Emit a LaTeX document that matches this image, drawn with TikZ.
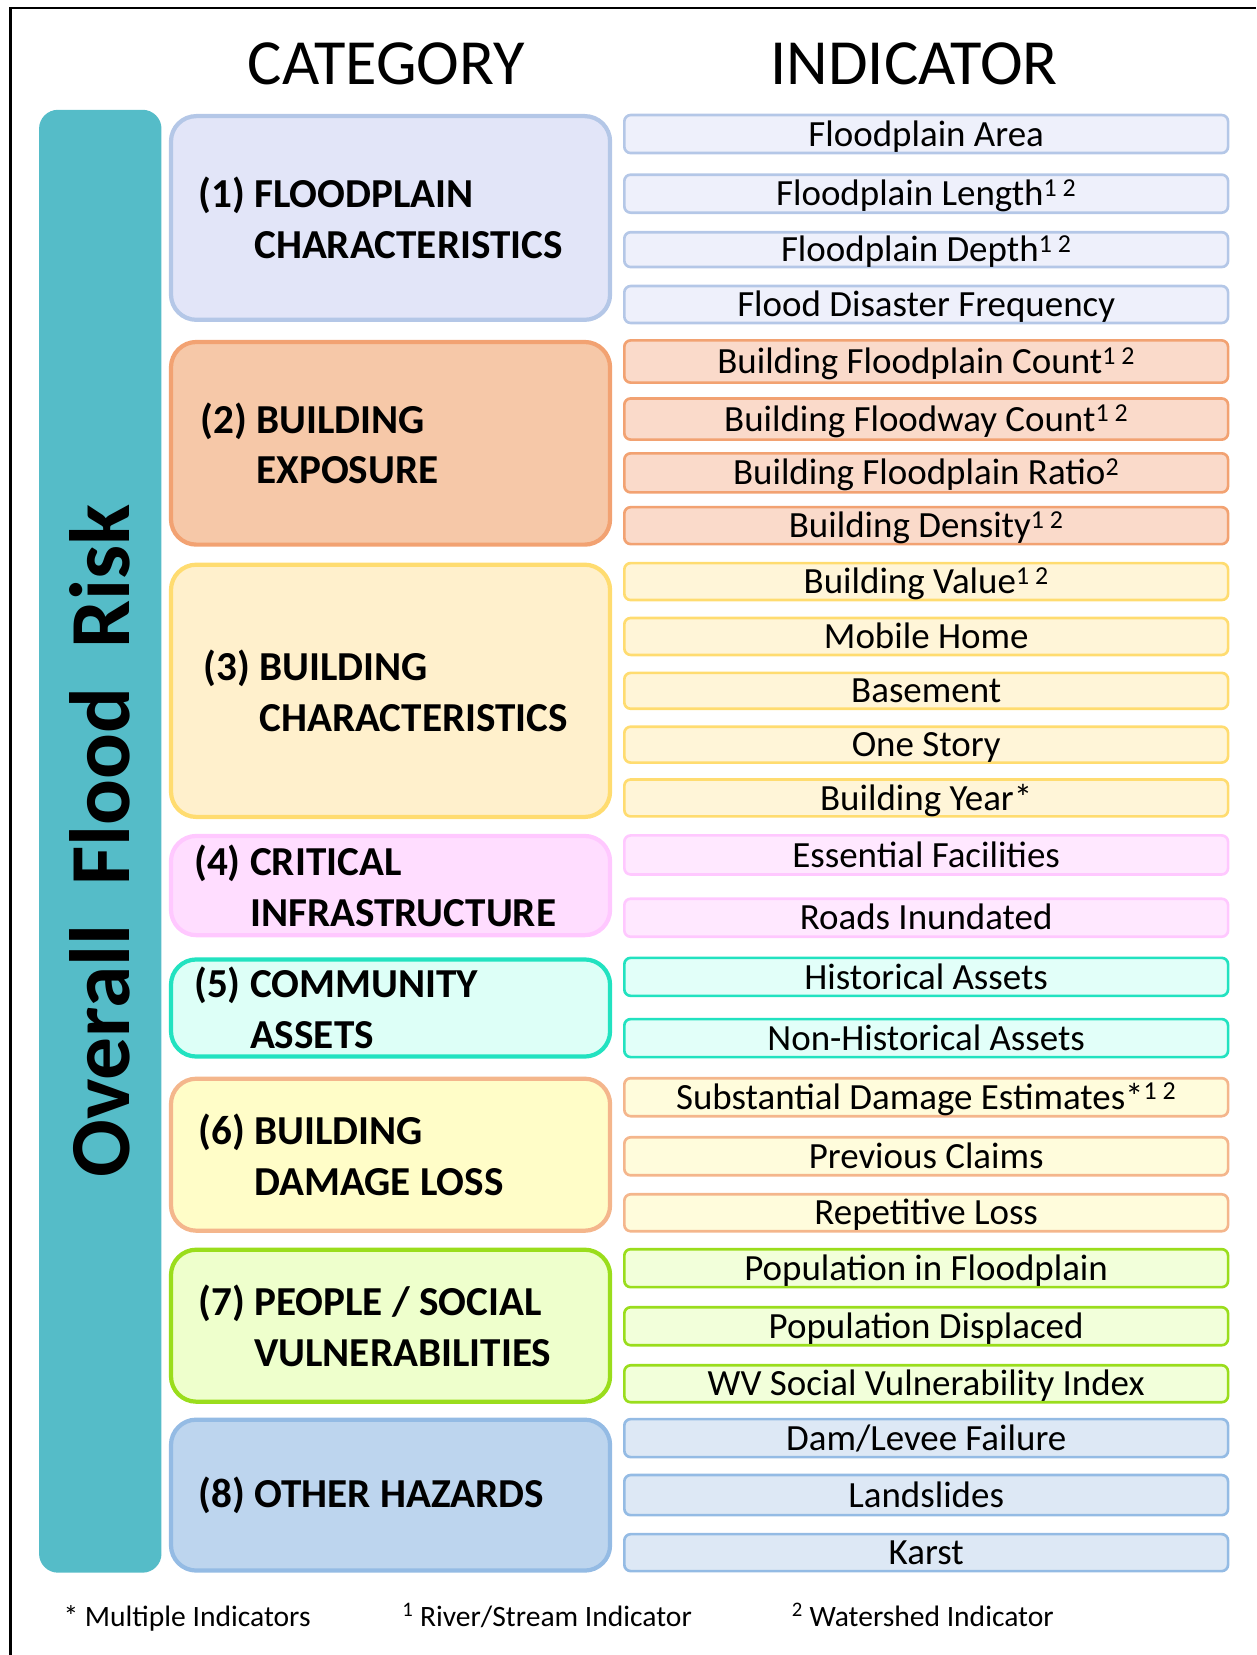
\documentclass[tikz,border=0pt]{standalone}
\usepackage{fontspec}
\setmainfont{Carlito}
\usepackage{xcolor}
\definecolor{riskteal}{HTML}{55BCC8}
\definecolor{floodfill}{HTML}{E2E5F8}
\definecolor{floodlight}{HTML}{EEF0FB}
\definecolor{floodline}{HTML}{B4C7E7}
\definecolor{expofill}{HTML}{F6C8A8}
\definecolor{expolight}{HTML}{FADACA}
\definecolor{expoline}{HTML}{F2A272}
\definecolor{charfill}{HTML}{FFF0CC}
\definecolor{charlight}{HTML}{FFF5D8}
\definecolor{charline}{HTML}{FFDC70}
\definecolor{critfill}{HTML}{FFDDFF}
\definecolor{critlight}{HTML}{FFE8FF}
\definecolor{critline}{HTML}{FFC8FF}
\definecolor{commfill}{HTML}{DDFFF7}
\definecolor{commlight}{HTML}{E2FFF9}
\definecolor{commline}{HTML}{22E2C0}
\definecolor{lossfill}{HTML}{FFFDC8}
\definecolor{losslight}{HTML}{FFFCDC}
\definecolor{lossline}{HTML}{F4B68C}
\definecolor{peoplefill}{HTML}{EEFFCC}
\definecolor{peoplelight}{HTML}{F2FFDA}
\definecolor{peopleline}{HTML}{9ADD1C}
\definecolor{hazfill}{HTML}{BDD5EE}
\definecolor{hazlight}{HTML}{DDE8F5}
\definecolor{hazline}{HTML}{94BBE4}
\newcommand{\headfont}{\fontsize{61}{68}\selectfont}
\newcommand{\riskfont}{\fontsize{81}{90}\selectfont\bfseries}
\newcommand{\catfont}{\fontsize{39}{48}\selectfont\bfseries}
\newcommand{\indfont}{\fontsize{35}{38}\selectfont}
\newcommand{\notefont}{\fontsize{28}{30}\selectfont}
\begin{document}
\begin{tikzpicture}[%
    x=1pt,y=-1pt,
    category/.style={%
      rounded corners=24pt,line width=4pt,minimum width=416pt,
      text width=364pt,align=flush left,inner sep=0pt,font=\catfont},
    indicator/.style={%
      rounded corners=6pt,line width=2.5pt,minimum width=572pt,
      inner sep=0pt,text height=24pt,text depth=1pt,font=\indfont},
    floodcat/.style={category,fill=floodfill,draw=floodline},
    floodind/.style={indicator,fill=floodlight,draw=floodline},
    expocat/.style={category,fill=expofill,draw=expoline},
    expoind/.style={indicator,fill=expolight,draw=expoline},
    charcat/.style={category,fill=charfill,draw=charline},
    charind/.style={indicator,fill=charlight,draw=charline},
    critcat/.style={category,fill=critfill,draw=critline},
    critind/.style={indicator,fill=critlight,draw=critline},
    commcat/.style={category,fill=commfill,draw=commline},
    commind/.style={indicator,fill=commlight,draw=commline},
    losscat/.style={category,fill=lossfill,draw=lossline},
    lossind/.style={indicator,fill=losslight,draw=lossline},
    peoplecat/.style={category,fill=peoplefill,draw=peopleline},
    peopleind/.style={indicator,fill=peoplelight,draw=peopleline},
    hazcat/.style={category,fill=hazfill,draw=hazline},
    hazind/.style={indicator,fill=hazlight,draw=hazline},
    note/.style={anchor=base west,inner sep=0pt,font=\notefont}
  ]
    \useasboundingbox (0,0) rectangle (1190,1568);
    \draw[line width=2pt] (10,1568) -- (10,8) -- (1190,8);

    % headers
    \node[anchor=base,font=\headfont] (cathead) at (366,80) {CATEGORY};
    \node[anchor=base,font=\headfont] (indhead) at (866,80) {INDICATOR};

    % overall bar
    \node[fill=riskteal,rounded corners=18pt,rotate=90,minimum width=1386pt,
          minimum height=116pt,font=\riskfont] (risk) at (95,797) {Overall\ \ Flood\ \ Risk};

    % categories
    \node[floodcat,minimum height=193pt]  (floodplain) at (370,206.5) {(1) FLOODPLAIN\\\hphantom{(1) }CHARACTERISTICS};
    \node[expocat,minimum height=192pt,text width=360pt] (exposure) at (370,420) {(2) BUILDING\\\hphantom{(2) }EXPOSURE};
    \node[charcat,minimum height=239pt,text width=354pt] (buildchar) at (370,654.5) {(3) BUILDING\\\hphantom{(3) }CHARACTERISTICS};
    \node[critcat,minimum height=94pt,text width=372pt]  (critical)  at (370,839) {(4) CRITICAL\\\hphantom{(4) }INFRASTRUCTURE};
    \node[commcat,minimum height=92pt,text width=372pt]  (community) at (370,955) {(5) COMMUNITY\\\hphantom{(5) }ASSETS};
    \node[losscat,minimum height=144pt]   (damage)     at (370,1094)  {(6) BUILDING\\\hphantom{(6) }DAMAGE LOSS};
    \node[peoplecat,minimum height=144pt] (people)     at (370,1256)  {(7) PEOPLE / SOCIAL\\\hphantom{(7) }VULNERABILITIES};
    \node[hazcat,minimum height=143pt]    (hazards)    at (370,1416.5) {(8) OTHER HAZARDS};

    % indicators
    \node[floodind,minimum height=36pt] (fparea)   at (877.5,127)   {Floodplain Area};
    \node[floodind,minimum height=36pt] (fplength) at (877.5,183.5) {Floodplain Length\textsuperscript{1 2}};
    \node[floodind,minimum height=33pt] (fpdepth)  at (877.5,236.5) {Floodplain Depth\textsuperscript{1 2}};
    \node[floodind,minimum height=35pt] (fdfreq)   at (877.5,288.5) {Flood Disaster Frequency};

    \node[expoind,minimum height=40pt] (bfpcount) at (877.5,342.5) {Building Floodplain Count\textsuperscript{1 2}};
    \node[expoind,minimum height=39pt] (bfwcount) at (877.5,397)   {Building Floodway Count\textsuperscript{1 2}};
    \node[expoind,minimum height=37pt] (bfpratio) at (877.5,448)   {Building Floodplain Ratio\textsuperscript{2}};
    \node[expoind,minimum height=35pt] (bdensity) at (877.5,498)   {Building Density\textsuperscript{1 2}};

    \node[charind,minimum height=35pt] (bvalue)   at (877.5,551)   {Building Value\textsuperscript{1 2}};
    \node[charind,minimum height=35pt] (mobile)   at (877.5,603)   {Mobile Home};
    \node[charind,minimum height=34pt] (basement) at (877.5,654.5) {Basement};
    \node[charind,minimum height=34pt] (onestory) at (877.5,705.5) {One Story};
    \node[charind,minimum height=35pt] (byear)    at (877.5,756)   {Building Year*};

    \node[critind,minimum height=37pt] (essential) at (877.5,810)   {Essential Facilities};
    \node[critind,minimum height=36pt] (roads)     at (877.5,869.5) {Roads Inundated};

    \node[commind,minimum height=36pt] (historic)    at (877.5,925.5) {Historical Assets};
    \node[commind,minimum height=36pt] (nonhistoric) at (877.5,983.5) {Non-Historical Assets};

    \node[lossind,minimum height=36pt] (substantial) at (877.5,1039.5) {Substantial Damage Estimates*\textsuperscript{1 2}};
    \node[lossind,minimum height=36pt] (claims)      at (877.5,1095.5) {Previous Claims};
    \node[lossind,minimum height=35pt] (repetitive)  at (877.5,1149)   {Repetitive Loss};

    \node[peopleind,minimum height=36pt] (popfp)   at (877.5,1201.5) {Population in Floodplain};
    \node[peopleind,minimum height=36pt] (popdisp) at (877.5,1256.5) {Population Displaced};
    \node[peopleind,minimum height=35pt] (wvsvi)   at (877.5,1311)   {WV Social Vulnerability Index};

    \node[hazind,minimum height=36pt] (damlevee)   at (877.5,1362.5) {Dam/Levee Failure};
    \node[hazind,minimum height=38pt] (landslides) at (877.5,1416.5) {Landslides};
    \node[hazind,minimum height=35pt] (karst)      at (877.5,1471)   {Karst};

    % footnotes
    \node[note] (multiple)  at (60,1541)  {* Multiple Indicators};
    \node[note] (river)     at (381,1541) {\textsuperscript{1} River/Stream Indicator};
    \node[note] (watershed) at (750,1541) {\textsuperscript{2} Watershed Indicator};
\end{tikzpicture}
\end{document}
